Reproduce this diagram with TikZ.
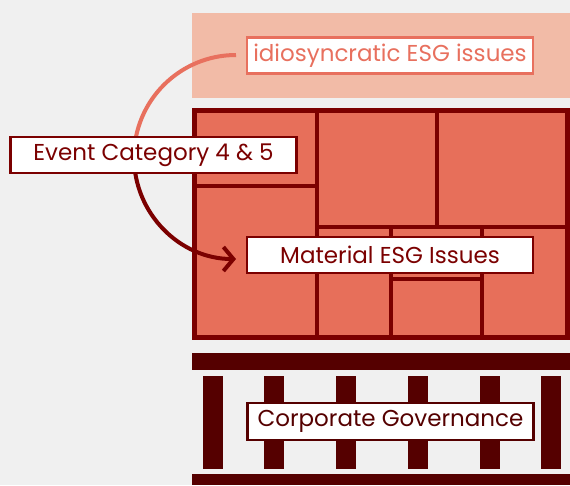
\documentclass[tikz,border=0pt]{standalone}
\usepackage{fontspec}
\setmainfont{Poppins}
\usepackage{tikz}
\usetikzlibrary{arrows.meta}

\definecolor{bggray}{HTML}{F0F0F0}
\definecolor{topfill}{HTML}{F2BBA7}
\definecolor{salmon}{HTML}{E8705E}
\definecolor{mainfill}{HTML}{E76F5A}
\definecolor{darkred}{HTML}{7B0000}
\definecolor{govred}{HTML}{550000}

\tikzset{
  label box/.style={draw, line width=2.5pt, fill=white, inner sep=0pt,
    minimum width=286pt, minimum height=36pt, font=\fontsize{23}{25}\selectfont},
  grid line/.style={darkred, line width=4.5pt},
  gov bar/.style={fill=govred, draw=none},
}

\begin{document}
\begin{tikzpicture}[x=1pt, y=-1pt]

\useasboundingbox[fill=bggray] (0,0) rectangle (570,485);

% top layer
\fill[topfill] (192,13) rectangle (570,98);

% material block
\draw[darkred, fill=mainfill, line width=5pt] (194.5,110.5) rectangle (567.5,337.5);
\draw[grid line] (317,110.5)--(317,337.5);
\draw[grid line] (437,110.5)--(437,227);
\draw[grid line] (317,227)--(567.5,227);
\draw[grid line] (194.5,186)--(317,186);
\draw[grid line] (391,227)--(391,337.5);
\draw[grid line] (482,227)--(482,337.5);
\draw[grid line] (391,279)--(482,279);

% governance
\fill[gov bar] (192,353) rectangle (570,370);
\fill[gov bar] (192,474) rectangle (570,485);
\foreach \x in {203,264,336,408,480,541}
  \fill[gov bar] (\x,376) rectangle (\x+20,469);

% arc (y axis points down, so angles run clockwise)
\coordinate (arcc) at (236,157);
\draw[salmon, line width=4pt] (arcc) ++(270:102) arc (270:180:102);
\draw[darkred, line width=4pt, -{Straight Barb[length=10pt, width=24pt]}] (arcc) ++(180:102) arc (180:90:102);

% labels
\node[label box, draw=salmon, text=salmon] (idio) at (390,55.5) {idiosyncratic ESG issues};
\node[label box, draw=darkred, text=darkred] (event) at (153.5,155) {Event Category 4 \& 5};
\node[label box, draw=darkred, text=darkred] (material) at (390,255) {Material ESG Issues};
\node[label box, draw=govred, text=govred, minimum height=37pt] (corp) at (390.5,421.5) {Corporate Governance};

\end{tikzpicture}
\end{document}
